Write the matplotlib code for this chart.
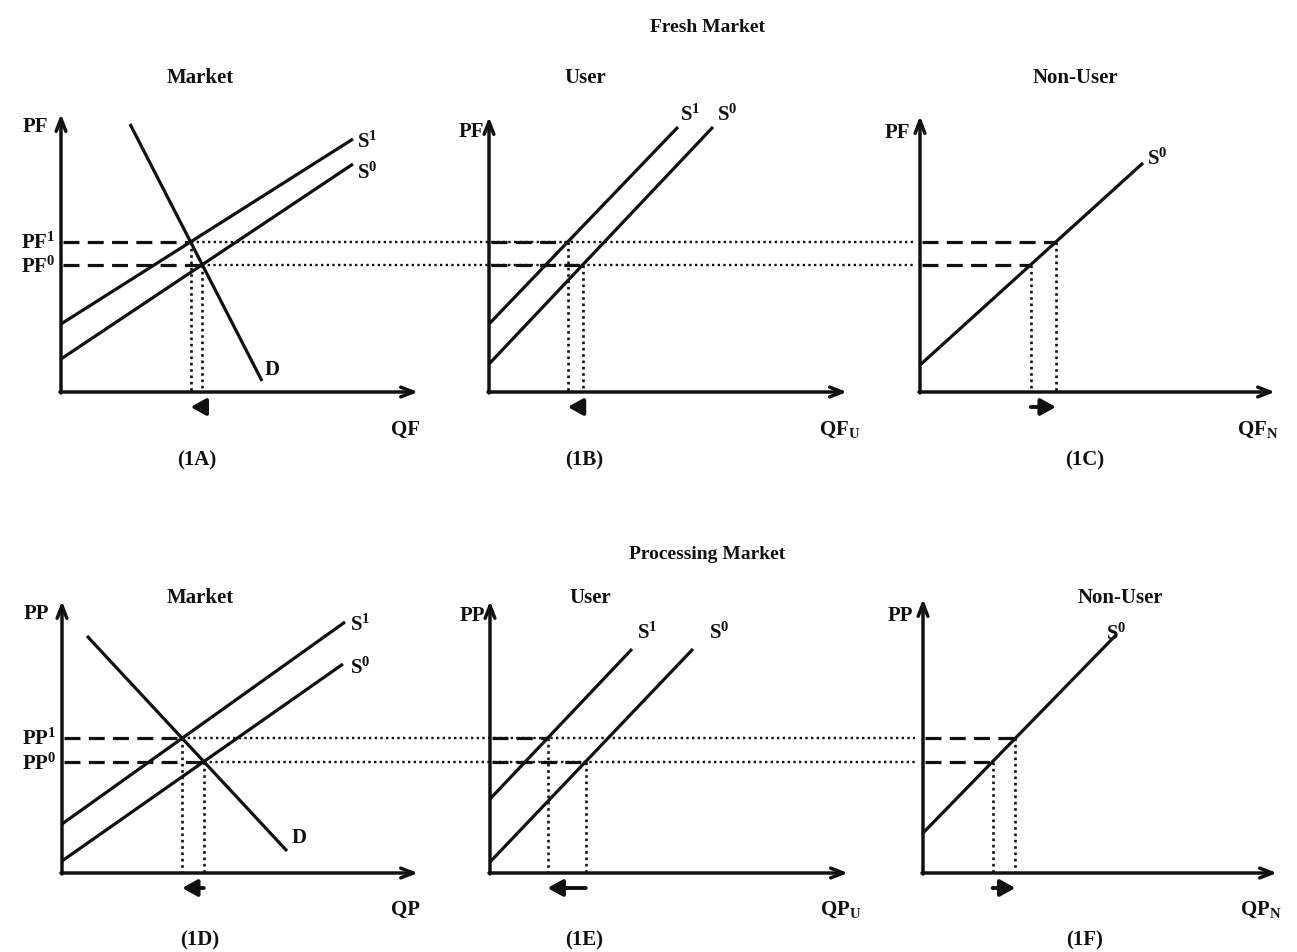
import matplotlib.pyplot as plt

plt.rcParams['font.family'] = 'Liberation Serif'
plt.rcParams['mathtext.fontset'] = 'custom'
plt.rcParams['mathtext.rm'] = 'Liberation Serif'
plt.rcParams['mathtext.bf'] = 'Liberation Serif:bold'
plt.rcParams['mathtext.default'] = 'regular'

# curve end points, (quantity, price) measured from each panel's origin
fresh_demand = [(69, 268), (201, 11)]
fresh_supply1 = [(0, 68), (292, 253)]
fresh_supply0 = [(0, 33), (292, 228)]
fresh_user_s1 = [(0, 68), (189, 265)]
fresh_user_s0 = [(0, 28), (224, 265)]
fresh_non_s0 = [(0, 27), (223, 229)]

proc_demand = [(25, 237), (225, 22)]
proc_supply1 = [(0, 49), (283, 251)]
proc_supply0 = [(0, 12), (281, 209)]
proc_user_s1 = [(0, 74), (142, 224)]
proc_user_s0 = [(0, 11), (203, 224)]
proc_non_s0 = [(0, 40), (193, 238)]

row_titles = ['Fresh Market', 'Processing Market']
panel_titles = ['Market', 'User', 'Non-User']
panel_ids = ['(1A)', '(1B)', '(1C)', '(1D)', '(1E)', '(1F)']

INK = '#111111'
DASH = (0, (5, 2.6))
DOT = (0, (1, 1.4))


def slope_icpt(seg):
    (q0, p0), (q1, p1) = seg
    m = (p1 - p0) / (q1 - q0)
    return m, p0 - m * q0


def cross(a, b):
    ma, ca = slope_icpt(a)
    mb, cb = slope_icpt(b)
    q = (cb - ca) / (ma - mb)
    return q, ma * q + ca


def q_at(seg, p):
    m, c = slope_icpt(seg)
    return (p - c) / m


fig = plt.figure(figsize=(12.97, 9.53), dpi=100)
ax = fig.add_axes([0, 0, 1, 1])
ax.set_xlim(0, 1297)
ax.set_ylim(953, 0)
ax.axis('off')


def axes_frame(ox, oy, xend, ytop):
    style = '->,head_length=0.9,head_width=0.35'
    ax.annotate('', xy=(ox, ytop), xytext=(ox, oy + 1),
                arrowprops=dict(arrowstyle=style, lw=2.5, color=INK,
                                shrinkA=0, shrinkB=0))
    ax.annotate('', xy=(xend, oy), xytext=(ox - 1, oy),
                arrowprops=dict(arrowstyle=style, lw=2.5, color=INK,
                                shrinkA=0, shrinkB=0))


def curve(ox, oy, seg, label=None, off=(4, 0)):
    (q0, p0), (q1, p1) = seg
    ax.plot([ox + q0, ox + q1], [oy - p0, oy - p1], color=INK, lw=2.3,
            solid_capstyle='butt')
    if label:
        ax.text(ox + q1 + off[0], oy - p1 + off[1], label, fontsize=15,
                fontweight='bold', ha='left', va='center', color=INK)


def guides(ox, oy, q, p):
    # dashed from the price axis, dotted down to the quantity axis
    ax.plot([ox + 2, ox + q], [oy - p, oy - p], color=INK, lw=2.3, ls=DASH)
    ax.plot([ox + q, ox + q], [oy - p, oy], color=INK, lw=1.9, ls=DOT)


def shift_arrow(ox, oy, q_from, q_to, dy=15):
    ax.annotate('', xy=(ox + q_to, oy + dy), xytext=(ox + q_from, oy + dy),
                arrowprops=dict(arrowstyle='-|>,head_length=0.9,head_width=0.5',
                                lw=2.8, color=INK, shrinkA=0, shrinkB=0))


def text(x, y, s, size=15, bold=True, **kw):
    ax.text(x, y, s, fontsize=size, fontweight='bold' if bold else 'normal',
            ha=kw.pop('ha', 'center'), va=kw.pop('va', 'center'), color=INK, **kw)


rows = [
    dict(oy=393, market=(61, 418, 115), user=(489, 847, 118), non=(920, 1275, 117),
         dem=fresh_demand, s1=fresh_supply1, s0=fresh_supply0,
         us1=fresh_user_s1, us0=fresh_user_s0, ns0=fresh_non_s0,
         p='PF', q='QF', dotted_end=913, title_y=28, sub_y=78,
         subx=(200, 585, 1075), idy=460, xl_y=430,
         lab=dict(s1=(4, 2), s0=(4, 8), d=(3, -12), us1=(2, -13), us0=(4, -13),
                  ns0=(4, -5))),
    dict(oy=874, market=(62, 418, 602), user=(490, 848, 602), non=(923, 1277, 600),
         dem=proc_demand, s1=proc_supply1, s0=proc_supply0,
         us1=proc_user_s1, us0=proc_user_s0, ns0=proc_non_s0,
         p='PP', q='QP', dotted_end=915, title_y=555, sub_y=598,
         subx=(200, 590, 1120), idy=940, xl_y=910,
         lab=dict(s1=(5, 2), s0=(7, 3), d=(5, -14), us1=(5, -17), us0=(16, -17),
                  ns0=(-10, -2))),
]

for r, row in enumerate(rows):
    oy = row['oy']
    mx, mxe, mtop = row['market']
    ux, uxe, utop = row['user']
    nx, nxe, ntop = row['non']

    # market equilibrium before and after the supply shift
    q1, p1 = cross(row['dem'], row['s1'])
    q0, p0 = cross(row['dem'], row['s0'])

    text(707, row['title_y'], row_titles[r], size=14)
    for x, t in zip(row['subx'], panel_titles):
        text(x, row['sub_y'], t, size=15)

    # long dotted price lines across all three panels
    for p, q in ((p1, q1), (p0, q0)):
        ax.plot([mx + q, row['dotted_end']], [oy - p, oy - p], color=INK, lw=1.7, ls=DOT)

    # market panel
    axes_frame(mx, oy, mxe, mtop)
    guides(mx, oy, q1, p1)
    guides(mx, oy, q0, p0)
    curve(mx, oy, row['s1'], '$S^{1}$', row['lab']['s1'])
    curve(mx, oy, row['s0'], '$S^{0}$', row['lab']['s0'])
    curve(mx, oy, row['dem'], 'D', row['lab']['d'])
    shift_arrow(mx, oy, q0, q1)
    text(mx - 26, mtop + 12, row['p'])
    text(mx - 6, oy - p1, row['p'] + '$^{1}$', ha='right')
    text(mx - 6, oy - p0 + 2, row['p'] + '$^{0}$', ha='right')
    text(mx + 344, row['xl_y'], row['q'])
    text(200 if r else 197, row['idy'], panel_ids[3 * r])

    # user panel
    axes_frame(ux, oy, uxe, utop)
    uq1 = q_at(row['us1'], p1)
    uq0 = q_at(row['us0'], p0)
    guides(ux, oy, uq1, p1)
    guides(ux, oy, uq0, p0)
    curve(ux, oy, row['us1'], '$S^{1}$', row['lab']['us1'])
    curve(ux, oy, row['us0'], '$S^{0}$', row['lab']['us0'])
    shift_arrow(ux, oy, uq0, uq1)
    text(ux - 18, utop + 14, row['p'])
    text(ux + 351, row['xl_y'], row['q'] + '$_{U}$')
    text(584, row['idy'], panel_ids[3 * r + 1])

    # non-user panel
    axes_frame(nx, oy, nxe, ntop)
    nq1 = q_at(row['ns0'], p1)
    nq0 = q_at(row['ns0'], p0)
    guides(nx, oy, nq1, p1)
    guides(nx, oy, nq0, p0)
    curve(nx, oy, row['ns0'], '$S^{0}$', row['lab']['ns0'])
    shift_arrow(nx, oy, nq0, nq1)
    text(nx - 23, ntop + 16, row['p'])
    text(nx + 338, row['xl_y'], row['q'] + '$_{N}$')
    text(1085, row['idy'], panel_ids[3 * r + 2])

fig.savefig('out.png', dpi=100, facecolor='white')
